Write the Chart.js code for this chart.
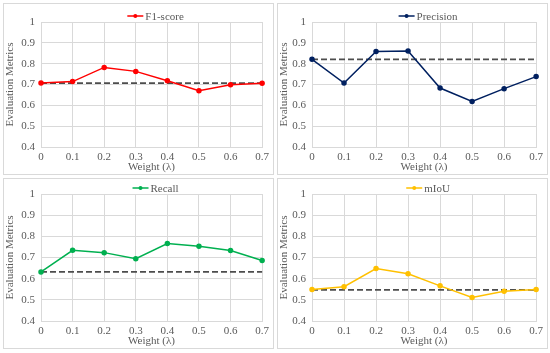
<!DOCTYPE html>
<html>
<head>
<meta charset="utf-8">
<script src="https://cdn.jsdelivr.net/npm/chart.js@4/dist/chart.umd.min.js"></script>
<style>
  body { margin: 0; background: #fff; width: 550px; height: 353px; position: relative; overflow: hidden; }
  .panel { position: absolute; border: 1px solid #d9d9d9; box-sizing: border-box; }
  .panel canvas { position: absolute; left: 0; top: 0; }
</style>
</head>
<body>
<div class="panel" style="left:3px; top:3px; width:271px; height:172px;"><canvas id="c1"></canvas></div>
<div class="panel" style="left:277px; top:3px; width:271px; height:172px;"><canvas id="c2"></canvas></div>
<div class="panel" style="left:3px; top:178px; width:271px; height:171px;"><canvas id="c3"></canvas></div>
<div class="panel" style="left:277px; top:178px; width:271px; height:171px;"><canvas id="c4"></canvas></div>
<script>
const weights = ['0', '0.1', '0.2', '0.3', '0.4', '0.5', '0.6', '0.7'];

const f1Score = [0.707, 0.714, 0.782, 0.763, 0.718, 0.670, 0.699, 0.706];
const f1Base = [0.707, 0.707, 0.707, 0.707, 0.707, 0.707, 0.707, 0.707];

const precision = [0.821, 0.707, 0.858, 0.861, 0.683, 0.619, 0.680, 0.738];
const precisionBase = [0.821, 0.821, 0.821, 0.821, 0.821, 0.821, 0.821, 0.821];

const recall = [0.632, 0.734, 0.723, 0.694, 0.766, 0.753, 0.733, 0.686];
const recallBase = [0.632, 0.632, 0.632, 0.632, 0.632, 0.632, 0.632, 0.632];

const miou = [0.549, 0.562, 0.648, 0.623, 0.566, 0.511, 0.540, 0.549];
const miouBase = [0.547, 0.547, 0.547, 0.547, 0.547, 0.547, 0.547, 0.547];

const font = "'Liberation Serif', 'Times New Roman', serif";
const textColor = '#595959';
const gridColor = '#d9d9d9';

// legend: short line with a dot, then the label, centred above the plot
const lineLegend = {
  id: 'lineLegend',
  afterDraw(chart) {
    const ds = chart.data.datasets[0];
    const ctx = chart.ctx;
    ctx.save();
    ctx.font = '11px ' + font;
    const tw = ctx.measureText(ds.label).width;
    const total = 16 + 2 + tw;
    const x0 = (chart.chartArea.left + chart.chartArea.right) / 2 - total / 2 + 4;
    const y = chart.chartArea.top - 6;
    ctx.strokeStyle = ds.borderColor;
    ctx.lineWidth = 1.5;
    ctx.beginPath();
    ctx.moveTo(x0, y);
    ctx.lineTo(x0 + 16, y);
    ctx.stroke();
    ctx.fillStyle = ds.borderColor;
    ctx.beginPath();
    ctx.arc(x0 + 8, y, 2, 0, Math.PI * 2);
    ctx.fill();
    ctx.fillStyle = textColor;
    ctx.textBaseline = 'middle';
    ctx.fillText(ds.label, x0 + 18, y + 1);
    ctx.restore();
  }
};

function createChart(canvasId, label, values, base, color, w, h, leftW, topPad, bottomH, rightPad) {
  const canvas = document.getElementById(canvasId);
  canvas.width = w;
  canvas.height = h;
  canvas.style.width = w + 'px';
  canvas.style.height = h + 'px';
  new Chart(canvas.getContext('2d'), {
    type: 'line',
    data: {
      labels: weights,
      datasets: [
        {
          label: label,
          data: values,
          borderColor: color,
          backgroundColor: color,
          borderWidth: 1.5,
          pointRadius: 2,
          pointHoverRadius: 2,
          tension: 0
        },
        {
          label: 'baseline',
          data: base,
          borderColor: '#4d4d4d',
          borderWidth: 1.8,
          borderDash: [6, 3],
          pointRadius: 0,
          tension: 0
        }
      ]
    },
    plugins: [lineLegend],
    options: {
      responsive: false,
      animation: false,
      devicePixelRatio: 1,
      layout: { padding: { top: topPad, right: rightPad, left: 0, bottom: 0 } },
      plugins: {
        legend: { display: false },
        tooltip: { enabled: false }
      },
      scales: {
        x: {
          offset: false,
          grid: { color: gridColor, drawTicks: false },
          border: { color: gridColor },
          ticks: { color: textColor, font: { family: font, size: 11 }, padding: 4, maxRotation: 0, autoSkip: false },
          title: { display: true, text: 'Weight (λ)', color: textColor, font: { family: font, size: 11 }, padding: { top: 0, bottom: 0 } },
          afterFit: scale => { scale.height = bottomH; }
        },
        y: {
          min: 0.4,
          max: 1,
          grid: { color: gridColor, drawTicks: false },
          border: { display: false },
          ticks: {
            stepSize: 0.1,
            color: textColor,
            font: { family: font, size: 11 },
            padding: 6,
            callback: v => Math.round(v * 10) / 10
          },
          title: { display: true, text: 'Evaluation Metrics', color: textColor, font: { family: font, size: 11 }, padding: { top: 0, bottom: 2 } },
          afterFit: scale => { scale.width = leftW; }
        }
      }
    }
  });
}

createChart('c1', 'F1-score', f1Score, f1Base, '#ff0000', 269, 170, 37, 18, 27, 6);
createChart('c2', 'Precision', precision, precisionBase, '#002060', 269, 170, 34, 18, 27, 7);
createChart('c3', 'Recall', recall, recallBase, '#00b050', 269, 169, 37, 15, 27, 6);
createChart('c4', 'mIoU', miou, miouBase, '#ffc000', 269, 169, 34, 15, 27, 7);
</script>
</body>
</html>
